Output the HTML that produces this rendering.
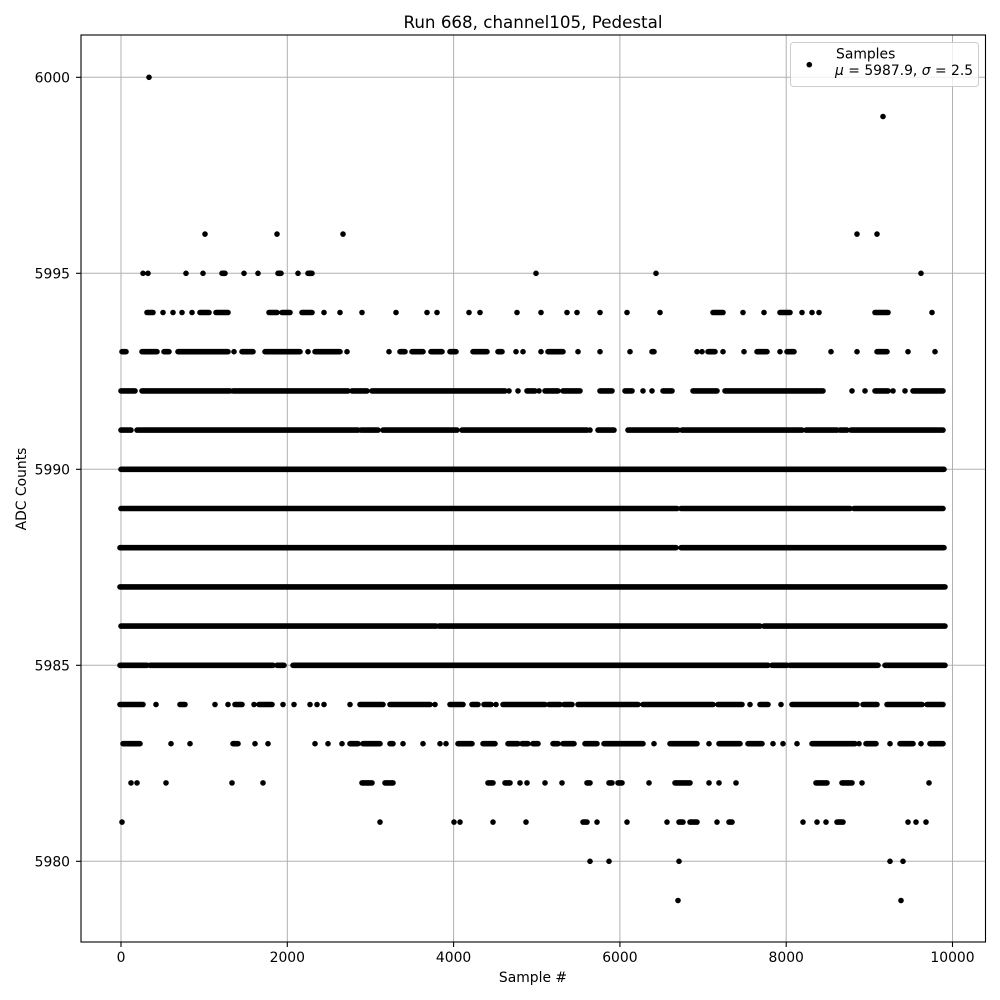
<!DOCTYPE html>
<html><head><meta charset="utf-8"><style>
html,body{margin:0;padding:0;background:#fff;}
svg{display:block;font-family:"DejaVu Sans","Liberation Sans",sans-serif;}
</style></head><body>
<svg width="1000" height="1000" viewBox="0 0 1000 1000" xmlns="http://www.w3.org/2000/svg">
<rect x="0" y="0" width="1000" height="1000" fill="#fff"/>
<!-- grid -->
<g stroke="#b0b0b0" stroke-width="1">
<line x1="121" y1="35" x2="121" y2="942"/>
<line x1="287.3" y1="35" x2="287.3" y2="942"/>
<line x1="453.6" y1="35" x2="453.6" y2="942"/>
<line x1="619.9" y1="35" x2="619.9" y2="942"/>
<line x1="786.2" y1="35" x2="786.2" y2="942"/>
<line x1="952.5" y1="35" x2="952.5" y2="942"/>
<line x1="81" y1="77.3" x2="985.5" y2="77.3"/>
<line x1="81" y1="273.3" x2="985.5" y2="273.3"/>
<line x1="81" y1="469.3" x2="985.5" y2="469.3"/>
<line x1="81" y1="665.3" x2="985.5" y2="665.3"/>
<line x1="81" y1="861.3" x2="985.5" y2="861.3"/>
</g>
<!-- data -->
<g fill="none" stroke="#000" stroke-width="5.6" stroke-linecap="round">
<path transform="translate(0,77.3)" d="M149 0h.01"/>
<path transform="translate(0,116.5)" d="M883 0h.01"/>
<path transform="translate(0,234.1)" d="M205 0h.01M277 0h.01M343 0h.01M857 0h.01M877 0h.01"/>
<path transform="translate(0,273.3)" d="M143 0h.01M148 0h.01M186 0h.01M203 0h.01M222 0H225M244 0h.01M258 0h.01M278 0H281M298 0h.01M308 0H312M536 0h.01M656 0h.01M921 0h.01"/>
<path transform="translate(0,312.5)" d="M147 0H153M163 0h.01M173 0h.01M182 0h.01M192 0h.01M200 0H209M216 0H228M269 0H277M282 0H290M302 0H312M324 0h.01M340 0h.01M362 0h.01M396 0h.01M427 0h.01M437 0h.01M469 0h.01M480 0h.01M517 0h.01M541 0h.01M567 0h.01M577 0h.01M600 0h.01M627 0h.01M660 0h.01M713 0H723M743 0h.01M764 0h.01M780 0H790M802 0h.01M812 0h.01M819 0h.01M875 0H888M932 0h.01"/>
<path transform="translate(0,351.7)" d="M122 0H126M142 0H157M164 0H169M178 0H228M234 0h.01M242 0H253M265 0H300M308 0h.01M315 0H340M347 0h.01M389 0h.01M400 0H405M412 0H423M431 0H442M450 0H456M473 0H487M498 0H502M516 0h.01M523 0h.01M541 0h.01M548 0H563M578 0h.01M600 0h.01M630 0h.01M652 0H654M697 0h.01M702 0h.01M708 0H715M723 0h.01M744 0h.01M757 0H767M780 0h.01M787 0H794M831 0h.01M857 0h.01M877 0H887M908 0h.01M935 0h.01"/>
<path transform="translate(0,390.9)" d="M121 0H135M142 0H230M233 0H348M352 0H367M372 0H505M509 0h.01M518 0h.01M527 0H535M539 0h.01M545 0H558M563 0H580M600 0H612M625 0H632M643 0h.01M652 0h.01M663 0H672M693 0H717M725 0H823M852 0h.01M865 0h.01M875 0H888M893 0h.01M905 0h.01M913 0H943"/>
<path transform="translate(0,430.1)" d="M121 0H131M137 0H358M361 0H378M383 0H457M462 0H587M590 0h.01M598 0H614M628 0H678M682 0H802M806 0H837M840 0H847M851 0H943"/>
<path transform="translate(0,469.3)" d="M121 0H944"/>
<path transform="translate(0,508.5)" d="M121 0H677M681 0H850M854 0H943"/>
<path transform="translate(0,547.7)" d="M120 0H676M681 0H944"/>
<path transform="translate(0,586.9)" d="M120 0H945"/>
<path transform="translate(0,626.1)" d="M121 0H436M439 0H760M764 0H945"/>
<path transform="translate(0,665.3)" d="M120 0H147M150 0H273M277 0H284M293 0H768M772 0H787M790 0H878M885 0H945"/>
<path transform="translate(0,704.5)" d="M120 0H143M156 0h.01M180 0H185M215 0h.01M228 0h.01M235 0H242M254 0h.01M259 0H272M283 0h.01M294 0h.01M310 0h.01M317 0h.01M324 0h.01M350 0h.01M360 0H383M390 0H430M435 0h.01M450 0H463M472 0H478M484 0H491M496 0h.01M503 0H545M549 0H560M564 0H572M578 0H638M643 0H713M718 0H742M750 0h.01M760 0H768M781 0h.01M792 0H857M863 0H877M887 0H922M927 0H943"/>
<path transform="translate(0,743.7)" d="M123 0H140M171 0h.01M190 0h.01M233 0H238M255 0h.01M268 0h.01M315 0h.01M328 0h.01M342 0h.01M350 0H358M363 0H380M390 0H393M403 0h.01M423 0h.01M440 0h.01M446 0h.01M458 0H472M483 0H495M508 0H518M522 0H528M533 0H538M553 0H558M563 0H574M585 0H597M604 0H643M654 0h.01M670 0H697M709 0h.01M719 0H740M748 0H762M773 0h.01M783 0h.01M797 0h.01M812 0H855M859 0h.01M866 0H876M890 0h.01M900 0H913M921 0h.01M930 0H943"/>
<path transform="translate(0,782.9)" d="M131 0h.01M137 0h.01M166 0h.01M232 0h.01M263 0h.01M362 0H372M385 0H393M488 0H493M505 0H510M520 0h.01M527 0h.01M545 0h.01M562 0h.01M587 0H590M609 0H612M618 0H622M649 0h.01M675 0H690M709 0h.01M719 0h.01M736 0h.01M816 0H827M842 0H852M862 0h.01M929 0h.01"/>
<path transform="translate(0,822.1)" d="M122 0h.01M380 0h.01M454 0h.01M460 0h.01M493 0h.01M526 0h.01M583 0H587M597 0h.01M627 0h.01M667 0h.01M679 0H683M690 0H697M717 0h.01M729 0H732M803 0h.01M817 0h.01M826 0h.01M837 0H843M908 0h.01M916 0h.01M926 0h.01"/>
<path transform="translate(0,861.3)" d="M590 0h.01M609 0h.01M679 0h.01M890 0h.01M903 0h.01"/>
<path transform="translate(0,900.5)" d="M678 0h.01M901 0h.01"/>
</g>
<!-- spines -->
<rect x="81" y="35" width="904.5" height="907" fill="none" stroke="#000" stroke-width="1.1"/>
<!-- ticks -->
<g stroke="#000" stroke-width="1.1">
<line x1="121" y1="942" x2="121" y2="947"/>
<line x1="287.3" y1="942" x2="287.3" y2="947"/>
<line x1="453.6" y1="942" x2="453.6" y2="947"/>
<line x1="619.9" y1="942" x2="619.9" y2="947"/>
<line x1="786.2" y1="942" x2="786.2" y2="947"/>
<line x1="952.5" y1="942" x2="952.5" y2="947"/>
<line x1="76" y1="77.3" x2="81" y2="77.3"/>
<line x1="76" y1="273.3" x2="81" y2="273.3"/>
<line x1="76" y1="469.3" x2="81" y2="469.3"/>
<line x1="76" y1="665.3" x2="81" y2="665.3"/>
<line x1="76" y1="861.3" x2="81" y2="861.3"/>
</g>
<g font-size="13.9" fill="#000">
<g text-anchor="middle">
<text x="121" y="962">0</text>
<text x="287.3" y="962">2000</text>
<text x="453.6" y="962">4000</text>
<text x="619.9" y="962">6000</text>
<text x="786.2" y="962">8000</text>
<text x="952.5" y="962">10000</text>
</g>
<g text-anchor="end">
<text x="70" y="82.3">6000</text>
<text x="70" y="278.3">5995</text>
<text x="70" y="474.3">5990</text>
<text x="70" y="670.3">5985</text>
<text x="70" y="866.3">5980</text>
</g>
<text x="533" y="982" text-anchor="middle">Sample #</text>
<text transform="translate(26,489) rotate(-90)" text-anchor="middle">ADC Counts</text>
</g>
<text x="533" y="28" text-anchor="middle" font-size="16.7" fill="#000">Run 668, channel105, Pedestal</text>
<!-- legend -->
<rect x="790.5" y="42.5" width="188" height="44" rx="3" ry="3" fill="#fff" fill-opacity="0.8" stroke="#cccccc" stroke-width="1"/>
<circle cx="809.3" cy="64.7" r="2.8" fill="#000"/>
<g font-size="13.9" fill="#000">
<text x="836" y="58.5">Samples</text>
<text x="835" y="75"><tspan font-style="italic">μ</tspan> = 5987.9, <tspan font-style="italic">σ</tspan> = 2.5</text>
</g>
</svg>
</body></html>
